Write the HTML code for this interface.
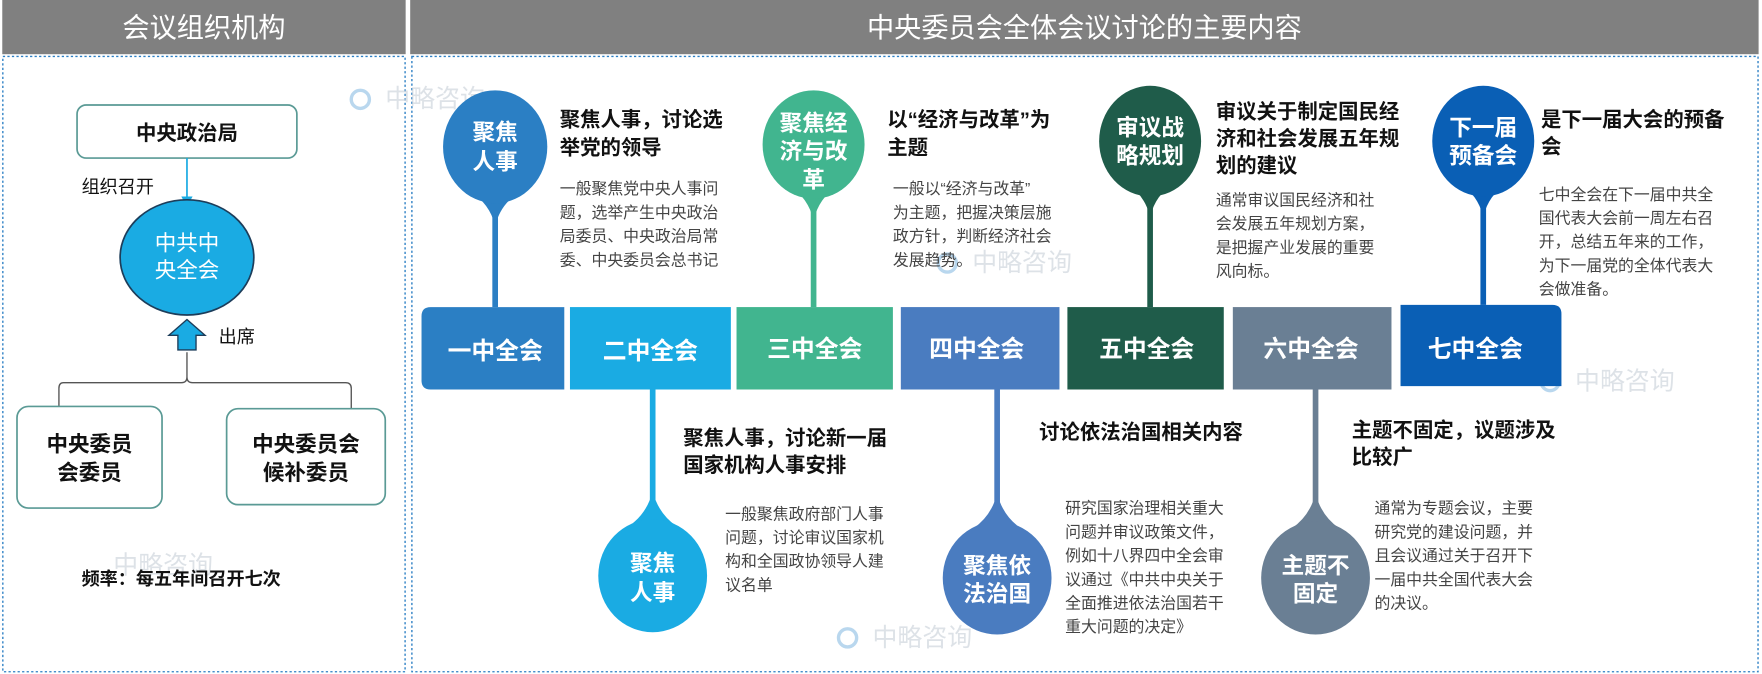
<!DOCTYPE html>
<html><head><meta charset="utf-8"><style>
html,body{margin:0;padding:0;background:#fff;}
svg{display:block;font-family:"Liberation Sans","Noto Sans CJK SC",sans-serif;}
.t{font-weight:bold;font-size:18px;fill:#111;}
.d{font-size:14px;fill:#444;}
.w{fill:#fff;font-weight:bold;}
.wm{fill:#c8d0d8;font-size:22px;opacity:.6;}
</style></head><body>
<svg width="1762" height="674" viewBox="0 0 1555 597" preserveAspectRatio="none">
<rect x="2" y="0" width="356" height="48" fill="#808080"/>
<text x="180" y="33" text-anchor="middle" font-size="24" fill="#fff">会议组织机构</text>
<rect x="362" y="0" width="1190" height="48" fill="#808080"/>
<text x="957" y="33" text-anchor="middle" font-size="24" fill="#fff">中央委员会全体会议讨论的主要内容</text>
<rect x="2.5" y="50" width="355" height="545" fill="none" stroke="#2b7fc4" stroke-width="1.2" stroke-dasharray="2,2"/>
<rect x="363.5" y="50" width="1188" height="545" fill="none" stroke="#2b7fc4" stroke-width="1.2" stroke-dasharray="2,2"/>

<text class="wm" x="340" y="95">中略咨询</text>
<text class="wm" x="858" y="240">中略咨询</text>
<text class="wm" x="1390" y="345">中略咨询</text>
<text class="wm" x="770" y="572">中略咨询</text>
<text class="wm" x="100" y="508">中略咨询</text>
<circle cx="318" cy="88" r="8" fill="none" stroke="#b9d7ee" stroke-width="3"/>
<circle cx="836" cy="233" r="8" fill="none" stroke="#b9d7ee" stroke-width="3"/>
<circle cx="1368" cy="338" r="8" fill="none" stroke="#b9d7ee" stroke-width="3"/>
<circle cx="748" cy="565" r="8" fill="none" stroke="#b9d7ee" stroke-width="3"/>

<rect x="68" y="93" width="194" height="47" rx="8" fill="#fff" stroke="#5a9a95" stroke-width="1.5"/>
<text x="165" y="124" text-anchor="middle" font-size="18" font-weight="bold" fill="#111">中央政治局</text>
<line x1="165" y1="140" x2="165" y2="176" stroke="#1aabe3" stroke-width="1.5"/>
<polygon points="160,174 170,174 165,183" fill="#1aabe3"/>
<text x="72" y="171" font-size="16" fill="#111">组织召开</text>
<ellipse cx="165" cy="228" rx="59" ry="51" fill="#1aabe3" stroke="#1d3d5a" stroke-width="1.5"/>
<text x="165" y="222" text-anchor="middle" font-size="19" fill="#fff">中共中</text>
<text x="165" y="246" text-anchor="middle" font-size="19" fill="#fff">央全会</text>
<polygon points="165,283 181,297 173,297 173,310 157,310 157,297 149,297" fill="#1aabe3" stroke="#1d3d5a" stroke-width="1.2"/>
<text x="193" y="304" font-size="16" fill="#111">出席</text>
<path d="M165 312 V334 Q165 339 160 339 H56 Q52 339 52 344 V360 M165 334 Q165 339 170 339 H305 Q310 339 310 344 V362" fill="none" stroke="#555" stroke-width="1.2"/>
<rect x="15" y="360" width="128" height="90" rx="10" fill="#fff" stroke="#5a9a95" stroke-width="1.5"/>
<text x="79" y="400" text-anchor="middle" font-size="19" font-weight="bold" fill="#111">中央委员</text>
<text x="79" y="425" text-anchor="middle" font-size="19" font-weight="bold" fill="#111">会委员</text>
<rect x="200" y="362" width="140" height="85" rx="10" fill="#fff" stroke="#5a9a95" stroke-width="1.5"/>
<text x="270" y="400" text-anchor="middle" font-size="19" font-weight="bold" fill="#111">中央委员会</text>
<text x="270" y="425" text-anchor="middle" font-size="19" font-weight="bold" fill="#111">候补委员</text>
<text x="72" y="518" font-size="16" font-weight="bold" fill="#111">频率：每五年间召开七次</text>

<path d="M380 272 H498 V345 H380 Q372 345 372 337 V280 Q372 272 380 272Z" fill="#2b7fc4"/>
<rect x="503" y="272" width="142" height="73" fill="#1aabe3"/>
<rect x="650" y="272" width="138" height="73" fill="#41b58f"/>
<rect x="795" y="272" width="140" height="73" fill="#4a7cc0"/>
<rect x="942" y="272" width="138" height="73" fill="#1f5c4a"/>
<rect x="1088" y="272" width="140" height="73" fill="#6a7f94"/>
<path d="M1236 270 H1370 Q1378 270 1378 278 V342 H1236Z" fill="#0a5fb5"/>
<g class="w" font-size="21" text-anchor="middle">
<text x="437" y="318">一中全会</text>
<text x="574" y="318">二中全会</text>
<text x="719" y="316">三中全会</text>
<text x="862" y="316">四中全会</text>
<text x="1012" y="316">五中全会</text>
<text x="1157" y="316">六中全会</text>
<text x="1302" y="316">七中全会</text>
</g>

<g>
<line x1="437" y1="180" x2="437" y2="272" stroke="#2b7fc4" stroke-width="5"/>
<path d="M415 170 Q432 180 437 200 Q442 180 459 170Z" fill="#2b7fc4"/>
<ellipse cx="437" cy="130" rx="46" ry="50" fill="#2b7fc4"/>
<text class="w" x="437" y="124" font-size="20" text-anchor="middle">聚焦</text>
<text class="w" x="437" y="150" font-size="20" text-anchor="middle">人事</text>
<text class="t" x="494" y="112">聚焦人事，讨论选</text>
<text class="t" x="494" y="137">举党的领导</text>
<text class="d" x="494" y="172">一般聚焦党中央人事问</text>
<text class="d" x="494" y="193">题，选举产生中央政治</text>
<text class="d" x="494" y="214">局委员、中央政治局常</text>
<text class="d" x="494" y="235">委、中央委员会总书记</text>
</g>
<g>
<line x1="718" y1="175" x2="718" y2="272" stroke="#41b58f" stroke-width="5"/>
<path d="M697 165 Q713 175 718 195 Q723 175 739 165Z" fill="#41b58f"/>
<ellipse cx="718" cy="128" rx="45" ry="48" fill="#41b58f"/>
<text class="w" x="718" y="116" font-size="20" text-anchor="middle">聚焦经</text>
<text class="w" x="718" y="141" font-size="20" text-anchor="middle">济与改</text>
<text class="w" x="718" y="166" font-size="20" text-anchor="middle">革</text>
<text class="t" x="783" y="112">以“经济与改革”为</text>
<text class="t" x="783" y="137">主题</text>
<text class="d" x="788" y="172">一般以“经济与改革”</text>
<text class="d" x="788" y="193">为主题，把握决策层施</text>
<text class="d" x="788" y="214">政方针，判断经济社会</text>
<text class="d" x="788" y="235">发展趋势。</text>
</g>
<g>
<line x1="1015" y1="172" x2="1015" y2="272" stroke="#1f5c4a" stroke-width="5"/>
<path d="M994 163 Q1010 172 1015 192 Q1020 172 1036 163Z" fill="#1f5c4a"/>
<ellipse cx="1015" cy="125" rx="45" ry="49" fill="#1f5c4a"/>
<text class="w" x="1015" y="120" font-size="20" text-anchor="middle">审议战</text>
<text class="w" x="1015" y="145" font-size="20" text-anchor="middle">略规划</text>
<text class="t" x="1073" y="105">审议关于制定国民经</text>
<text class="t" x="1073" y="129">济和社会发展五年规</text>
<text class="t" x="1073" y="153">划的建议</text>
<text class="d" x="1073" y="182">通常审议国民经济和社</text>
<text class="d" x="1073" y="203">会发展五年规划方案，</text>
<text class="d" x="1073" y="224">是把握产业发展的重要</text>
<text class="d" x="1073" y="245">风向标。</text>
</g>
<g>
<line x1="1309" y1="172" x2="1309" y2="270" stroke="#0a5fb5" stroke-width="5"/>
<path d="M1288 163 Q1304 172 1309 192 Q1314 172 1330 163Z" fill="#0a5fb5"/>
<ellipse cx="1309" cy="125" rx="45" ry="49" fill="#0a5fb5"/>
<text class="w" x="1309" y="120" font-size="20" text-anchor="middle">下一届</text>
<text class="w" x="1309" y="145" font-size="20" text-anchor="middle">预备会</text>
<text class="t" x="1360" y="112">是下一届大会的预备</text>
<text class="t" x="1360" y="136">会</text>
<text class="d" x="1358" y="177">七中全会在下一届中共全</text>
<text class="d" x="1358" y="198">国代表大会前一周左右召</text>
<text class="d" x="1358" y="219">开，总结五年来的工作，</text>
<text class="d" x="1358" y="240">为下一届党的全体代表大</text>
<text class="d" x="1358" y="261">会做准备。</text>
</g>

<g>
<line x1="576" y1="345" x2="576" y2="455" stroke="#1aabe3" stroke-width="5"/>
<path d="M555 466 Q571 455 576 435 Q581 455 597 466Z" fill="#1aabe3"/>
<ellipse cx="576" cy="510" rx="48" ry="50" fill="#1aabe3"/>
<text class="w" x="576" y="506" font-size="20" text-anchor="middle">聚焦</text>
<text class="w" x="576" y="532" font-size="20" text-anchor="middle">人事</text>
<text class="t" x="603" y="394">聚焦人事，讨论新一届</text>
<text class="t" x="603" y="418">国家机构人事安排</text>
<text class="d" x="640" y="460">一般聚焦政府部门人事</text>
<text class="d" x="640" y="481">问题，讨论审议国家机</text>
<text class="d" x="640" y="502">构和全国政协领导人建</text>
<text class="d" x="640" y="523">议名单</text>
</g>
<g>
<line x1="880" y1="345" x2="880" y2="455" stroke="#4a7cc0" stroke-width="5"/>
<path d="M859 468 Q875 457 880 437 Q885 457 901 468Z" fill="#4a7cc0"/>
<ellipse cx="880" cy="512" rx="48" ry="50" fill="#4a7cc0"/>
<text class="w" x="880" y="508" font-size="20" text-anchor="middle">聚焦依</text>
<text class="w" x="880" y="533" font-size="20" text-anchor="middle">法治国</text>
<text class="t" x="917" y="389">讨论依法治国相关内容</text>
<text class="d" x="940" y="455">研究国家治理相关重大</text>
<text class="d" x="940" y="476">问题并审议政策文件，</text>
<text class="d" x="940" y="497">例如十八界四中全会审</text>
<text class="d" x="940" y="518">议通过《中共中央关于</text>
<text class="d" x="940" y="539">全面推进依法治国若干</text>
<text class="d" x="940" y="560">重大问题的决定》</text>
</g>
<g>
<line x1="1161" y1="345" x2="1161" y2="455" stroke="#6a7f94" stroke-width="5"/>
<path d="M1140 468 Q1156 457 1161 437 Q1166 457 1182 468Z" fill="#6a7f94"/>
<ellipse cx="1161" cy="512" rx="48" ry="50" fill="#6a7f94"/>
<text class="w" x="1161" y="508" font-size="20" text-anchor="middle">主题不</text>
<text class="w" x="1161" y="533" font-size="20" text-anchor="middle">固定</text>
<text class="t" x="1193" y="387">主题不固定，议题涉及</text>
<text class="t" x="1193" y="411">比较广</text>
<text class="d" x="1213" y="455">通常为专题会议，主要</text>
<text class="d" x="1213" y="476">研究党的建设问题，并</text>
<text class="d" x="1213" y="497">且会议通过关于召开下</text>
<text class="d" x="1213" y="518">一届中共全国代表大会</text>
<text class="d" x="1213" y="539">的决议。</text>
</g>
</svg>
</body></html>
